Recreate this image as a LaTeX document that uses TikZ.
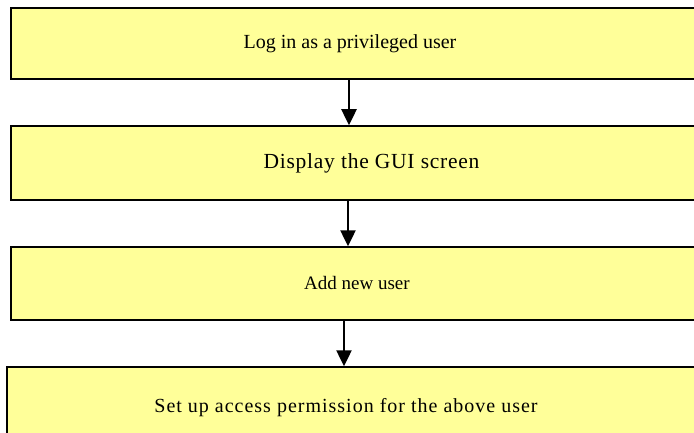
\documentclass[tikz,border=0pt]{standalone}
\usepackage{fontspec}
\setmainfont{Liberation Serif}
\usetikzlibrary{arrows.meta}
\definecolor{stepyellow}{RGB}{255,255,153}

\begin{document}
\begin{tikzpicture}[x=1pt,y=-1pt]
\tikzstyle{stepbox} = [rectangle, draw=black, line width=1.5pt, fill=stepyellow, inner sep=0pt]
\tikzstyle{steptext} = [font=\fontsize{20}{24}\selectfont]
\tikzstyle{flow} = [-{Triangle[length=16pt,width=15pt]}, line width=2.5pt]
\useasboundingbox (0,0) rectangle (694,433);
\node[stepbox, minimum width=689pt, minimum height=71pt, label={[steptext,xshift=-5.5pt]center:Log in as a privileged user}] (login) at (355.5,43.5) {};
\node[stepbox, minimum width=689pt, minimum height=74pt, label={[steptext,xshift=16pt,font=\fontsize{21.5}{24}\selectfont]center:\addfontfeature{LetterSpace=3.5}Display the GUI screen}] (gui) at (355.5,163) {};
\node[stepbox, minimum width=689pt, minimum height=73pt, label={[steptext,xshift=1.5pt,font=\fontsize{19}{24}\selectfont]center:Add new user}] (adduser) at (355.5,283.5) {};
\node[stepbox, minimum width=693pt, minimum height=78pt, label={[steptext,xshift=-7.5pt,yshift=-2pt]center:\addfontfeature{LetterSpace=5}Set up access permission for the above user}] (perm) at (353.5,406) {};
\draw[flow] ([xshift=-6.5pt]login.south) -- ([xshift=-6.5pt]gui.north);
\draw[flow] ([xshift=-7.5pt]gui.south) -- ([xshift=-7.5pt]adduser.north);
\draw[flow] ([xshift=-11.5pt]adduser.south) -- ([xshift=-9.5pt]perm.north);
\end{tikzpicture}
\end{document}
